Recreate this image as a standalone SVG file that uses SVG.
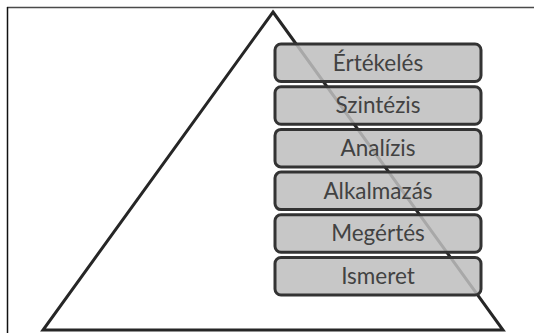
<svg xmlns="http://www.w3.org/2000/svg" width="534" height="333" viewBox="0 0 534 333">
  <style>
    .frame-top { stroke: #4a4a4a; stroke-width: 1.5; fill: none; }
    .frame-left { stroke: #111; stroke-width: 1.5; fill: none; }
    .pyramid { stroke: #262626; stroke-width: 3; fill: none; stroke-linejoin: miter; }
    .level rect { fill: #bebebe; fill-opacity: 0.86; stroke: #333; stroke-width: 3; }
    .level text { font-family: Lato, "Open Sans", "Liberation Sans", sans-serif; font-size: 22.5px; fill: #424242; text-anchor: middle; }
  </style>
  <rect width="534" height="333" fill="#fff"/>
  <!-- page frame -->
  <path class="frame-top" d="M7 7.5 H534"/>
  <path class="frame-left" d="M7.5 7 V333"/>
  <!-- pyramid outline -->
  <g id="pyramid">
    <path class="pyramid" d="M273 12 L503 330 L43 330 Z"/>
  </g>
  <!-- levels -->
  <g id="ertekeles" class="level">
    <rect x="275" y="44" width="206" height="37.5" rx="6"/>
    <text x="378" y="70.5">Értékelés</text>
  </g>
  <g id="szintezis" class="level">
    <rect x="275" y="86.7" width="206" height="37.5" rx="6"/>
    <text x="378" y="113.2">Szintézis</text>
  </g>
  <g id="analizis" class="level">
    <rect x="275" y="129.4" width="206" height="37.5" rx="6"/>
    <text x="378" y="155.9">Analízis</text>
  </g>
  <g id="alkalmazas" class="level">
    <rect x="275" y="172.1" width="206" height="37.5" rx="6"/>
    <text x="378" y="198.6">Alkalmazás</text>
  </g>
  <g id="megertes" class="level">
    <rect x="275" y="214.8" width="206" height="37.5" rx="6"/>
    <text x="378" y="241.3">Megértés</text>
  </g>
  <g id="ismeret" class="level">
    <rect x="275" y="257.5" width="206" height="37.5" rx="6"/>
    <text x="378" y="284">Ismeret</text>
  </g>
</svg>
